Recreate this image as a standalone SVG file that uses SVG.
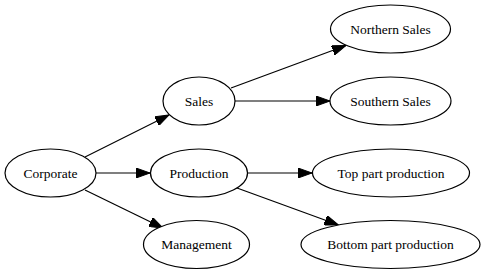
<svg xmlns="http://www.w3.org/2000/svg" width="485" height="275" viewBox="0 0 485 275">
<style>
.n ellipse{fill:#fff;stroke:#000;stroke-width:1.2}
text{font-family:'Liberation Serif','Times New Roman',serif;font-size:13.5px;text-anchor:middle;fill:#000}
.e line{stroke:#000;stroke-width:1.2;marker-end:url(#ah)}
</style>
<defs>
<marker id="ah" viewBox="0 0 14 10" refX="14" refY="5" markerWidth="14" markerHeight="10" markerUnits="userSpaceOnUse" orient="auto">
<path d="M0,0 L14,5 L0,10 z" fill="#000" stroke="#000" stroke-width="1"/>
</marker>
</defs>
<rect width="485" height="275" fill="#fff"/>
<g id="connectors" class="e">
<line x1="85" y1="157" x2="169" y2="115"/>
<line x1="96" y1="173" x2="150" y2="173"/>
<line x1="85" y1="190" x2="163" y2="228"/>
<line x1="231" y1="88" x2="346" y2="45.5"/>
<line x1="235" y1="101" x2="330" y2="101"/>
<line x1="248" y1="173" x2="312" y2="173"/>
<line x1="237" y1="188" x2="338.5" y2="225"/>
</g>
<g id="corporate" class="n"><ellipse cx="50.5" cy="173" rx="45.5" ry="24"/><text x="50.5" y="177.5">Corporate</text></g>
<g id="sales" class="n"><ellipse cx="199" cy="101" rx="36" ry="24"/><text x="199" y="105.5">Sales</text></g>
<g id="production" class="n"><ellipse cx="199" cy="173" rx="48.5" ry="24"/><text x="199" y="177.5">Production</text></g>
<g id="management" class="n"><ellipse cx="196.5" cy="244.5" rx="53" ry="24"/><text x="196.5" y="249">Management</text></g>
<g id="northern" class="n"><ellipse cx="390.5" cy="29" rx="60" ry="24"/><text x="390.5" y="33.5">Northern Sales</text></g>
<g id="southern" class="n"><ellipse cx="390.5" cy="101" rx="60.5" ry="24"/><text x="390.5" y="105.5">Southern Sales</text></g>
<g id="toppart" class="n"><ellipse cx="391" cy="173" rx="78.5" ry="24"/><text x="391" y="177.5">Top part production</text></g>
<g id="bottompart" class="n"><ellipse cx="390.5" cy="244.5" rx="89.5" ry="24"/><text x="390.5" y="249">Bottom part production</text></g>
</svg>
